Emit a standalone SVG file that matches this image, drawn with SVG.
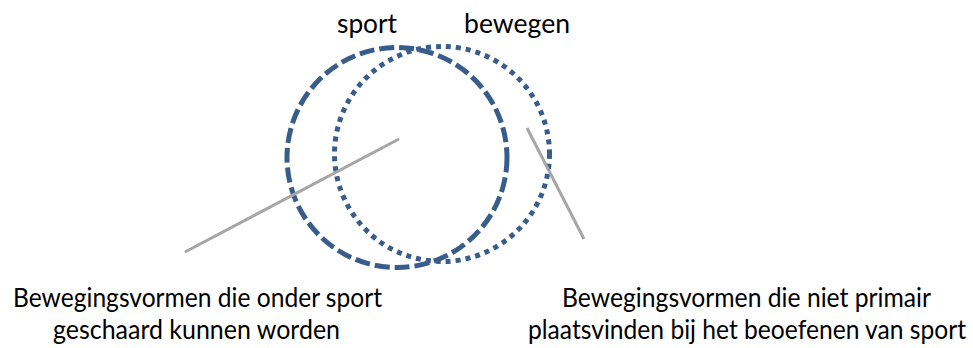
<svg xmlns="http://www.w3.org/2000/svg" width="973" height="348" viewBox="0 0 973 348">
  <style>
    .lbl { font-family: Lato, "Open Sans", "Liberation Sans", sans-serif; font-size: 26.5px; fill: #000; text-anchor: middle; }
    .set { fill: none; stroke: #385D8A; stroke-width: 5; stroke-linecap: butt; }
    .dash { stroke-dasharray: 15 5; }
    .dot { stroke-dasharray: 5 5; }
    .conn { stroke: #A6A6A6; stroke-width: 3; fill: none; }
  </style>
  <rect width="973" height="348" fill="#fff"/>
  <g id="bewegen">
    <circle class="set dot" cx="442" cy="154" r="107.5"/>
    <text class="lbl" x="517" y="33" textLength="106" lengthAdjust="spacingAndGlyphs">bewegen</text>
  </g>
  <g id="sport">
    <circle class="set dash" cx="397" cy="157.5" r="110"/>
    <text class="lbl" x="367" y="33" textLength="60" lengthAdjust="spacingAndGlyphs">sport</text>
  </g>
  <g id="connectors">
    <line class="conn" x1="185" y1="252" x2="399" y2="139"/>
    <line class="conn" x1="527" y1="128" x2="584" y2="239"/>
  </g>
  <g id="label-left">
    <text class="lbl" x="197.5" y="307" textLength="369" lengthAdjust="spacingAndGlyphs">Bewegingsvormen die onder sport</text>
    <text class="lbl" x="196.5" y="339" textLength="287" lengthAdjust="spacingAndGlyphs">geschaard kunnen worden</text>
  </g>
  <g id="label-right">
    <text class="lbl" x="746.5" y="307" textLength="369" lengthAdjust="spacingAndGlyphs">Bewegingsvormen die niet primair</text>
    <text class="lbl" x="747" y="339" textLength="438" lengthAdjust="spacingAndGlyphs">plaatsvinden bij het beoefenen van sport</text>
  </g>
</svg>
